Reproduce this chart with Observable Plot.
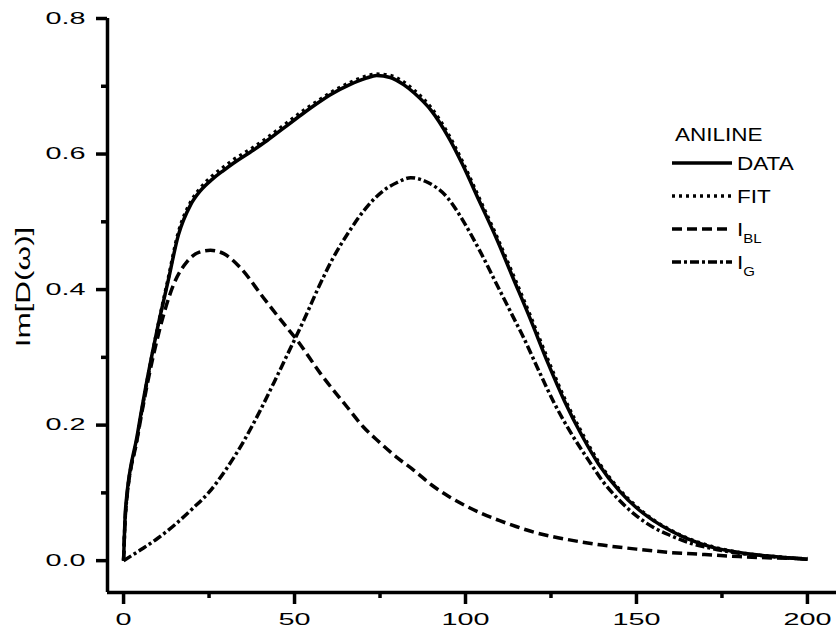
<!DOCTYPE html>
<html>
<head>
<meta charset="utf-8">
<script src="https://cdn.jsdelivr.net/npm/d3@7"></script>
<script src="https://cdn.jsdelivr.net/npm/@observablehq/plot@0.6"></script>
<style>
  html, body { margin: 0; padding: 0; background: #fff; }
  #wrap { position: relative; width: 836px; height: 635px; }
  #wrap svg { display: block; }
  #overlay { position: absolute; left: 0; top: 0; pointer-events: none; }
</style>
</head>
<body>
<div id="wrap"></div>
<script>
// ---- data ----
const dataX = [0, 0.6, 4, 7, 10, 13, 16, 19.6, 22.5, 26, 29.3, 32, 38, 42, 47, 52, 57, 61, 66, 71, 74, 78, 82, 85, 90, 95, 99, 104, 109, 114, 119, 124, 129, 134, 139, 145, 150, 155, 160, 165, 172, 180, 190, 200];
const dataY = [0, 0.078, 0.185, 0.27, 0.345, 0.412, 0.480, 0.525, 0.546, 0.563, 0.576, 0.586, 0.606, 0.620, 0.639, 0.658, 0.676, 0.689, 0.702, 0.712, 0.716, 0.713, 0.702, 0.690, 0.664, 0.625, 0.586, 0.531, 0.476, 0.416, 0.356, 0.293, 0.235, 0.185, 0.142, 0.103, 0.078, 0.059, 0.044, 0.032, 0.020, 0.012, 0.006, 0.002];
const fitY  = [0, 0.072, 0.182, 0.268, 0.345, 0.415, 0.484, 0.529, 0.550, 0.568, 0.581, 0.591, 0.610, 0.624, 0.643, 0.662, 0.679, 0.692, 0.705, 0.715, 0.718, 0.716, 0.706, 0.694, 0.668, 0.629, 0.590, 0.535, 0.480, 0.421, 0.361, 0.298, 0.239, 0.189, 0.145, 0.105, 0.080, 0.060, 0.045, 0.033, 0.021, 0.012, 0.006, 0.002];
const iblX = [0, 0.6, 4, 7, 10, 12, 14.6, 18.7, 22, 25.4, 29.3, 34.2, 40.9, 46.8, 50.8, 57.6, 65.5, 70, 75, 80, 85, 90, 95, 100, 105, 110, 115, 120, 125, 130, 140, 150, 160, 170, 180, 190, 200];
const iblY = [0, 0.072, 0.18, 0.262, 0.33, 0.368, 0.407, 0.442, 0.455, 0.458, 0.453, 0.432, 0.388, 0.350, 0.325, 0.276, 0.226, 0.198, 0.174, 0.152, 0.133, 0.112, 0.095, 0.081, 0.069, 0.059, 0.050, 0.042, 0.036, 0.031, 0.023, 0.017, 0.012, 0.009, 0.006, 0.004, 0.003];
const igX = [0, 5, 10, 15, 20, 25, 30, 35, 40, 44, 48, 53, 57, 61, 66, 71, 76, 80, 84, 89, 95, 99, 104, 109, 114, 117, 121, 126, 131, 136, 140, 145, 150, 155, 160, 165, 172, 180, 190, 200];
const igY = [0, 0.016, 0.033, 0.053, 0.076, 0.101, 0.135, 0.175, 0.222, 0.263, 0.305, 0.358, 0.403, 0.444, 0.486, 0.521, 0.546, 0.558, 0.565, 0.558, 0.534, 0.504, 0.459, 0.409, 0.359, 0.329, 0.285, 0.232, 0.187, 0.148, 0.118, 0.089, 0.066, 0.049, 0.037, 0.027, 0.018, 0.011, 0.006, 0.002];

const xMajor = [0, 50, 100, 150, 200];
const xMinor = [25, 75, 125, 175];
const yMajor = [0.0, 0.2, 0.4, 0.6, 0.8];
const yMinor = [0.1, 0.3, 0.5, 0.7];

const legendTitle = "ANILINE";
const legendLabels = [["DATA", ""], ["FIT", ""], ["I", "BL"], ["I", "G"]];
const yLabel = "Im[D(ω)]";

// ---- styles ----
const dashes = [null, "3,4", "10,5", "9,3,3,3"];
const SW = 3.5;
const AW = 3.5;
const xDomain = [-4.7, 208.5];
const yDomain = [-0.047, 0.8];

const series = [
  dataX.map((x, i) => ({x, y: dataY[i]})),
  dataX.map((x, i) => ({x, y: fitY[i]})),
  iblX.map((x, i) => ({x, y: iblY[i]})),
  igX.map((x, i) => ({x, y: igY[i]}))
];

const plot = Plot.plot({
  width: 836,
  height: 635,
  marginLeft: 107,
  marginRight: 0,
  marginTop: 18,
  marginBottom: 43,
  x: {domain: xDomain},
  y: {domain: yDomain},
  style: {fontFamily: "'Liberation Sans', Arial, sans-serif", fontSize: "16px", color: "black", background: "white"},
  marks: [
    Plot.axisY(yMajor, {tickSize: 11, tickPadding: 11, strokeWidth: AW, tickFormat: d3.format(".1f"), fontSize: 16, label: null}),
    Plot.axisY(yMinor, {tickSize: 6, strokeWidth: AW, tickFormat: () => "", label: null}),
    Plot.axisX(xMajor, {tickSize: 12, tickPadding: 9, strokeWidth: AW, tickFormat: d3.format("d"), fontSize: 16, label: null}),
    Plot.axisX(xMinor, {tickSize: 6, strokeWidth: AW, tickFormat: () => "", label: null}),
    Plot.ruleX([xDomain[0]], {strokeWidth: AW, stroke: "black"}),
    Plot.ruleY([yDomain[0]], {strokeWidth: AW, stroke: "black"}),
    ...series.map((s, k) => Plot.line(s, {
      x: "x", y: "y", stroke: "black", strokeWidth: SW,
      strokeDasharray: dashes[k] ?? undefined, curve: "monotone-x",
      strokeLinecap: "butt", strokeLinejoin: "round"
    }))
  ]
});

function stretch(selector, sx) {
  plot.querySelectorAll(selector).forEach(t => {
    const tr = t.getAttribute("transform");
    if (tr) t.setAttribute("transform", tr + ` scale(${sx},1)`);
    else {
      const x = +t.getAttribute("x") || 0, y = +t.getAttribute("y") || 0;
      t.setAttribute("transform", `translate(${x},${y}) scale(${sx},1) translate(${-x},${-y})`);
    }
  });
}
stretch('g[aria-label="y-axis tick label"] text', 1.8);
stretch('g[aria-label="x-axis tick label"] text', 1.8);

const wrap = document.getElementById("wrap");
wrap.appendChild(plot);

// ---- overlay: y label and legend ----
const ov = d3.select(wrap).append("svg")
  .attr("id", "overlay").attr("width", 836).attr("height", 635)
  .style("font-family", "'Liberation Sans', Arial, sans-serif");

ov.append("text")
  .attr("transform", "translate(30,287) rotate(-90) scale(1.5,1)")
  .attr("text-anchor", "middle")
  .attr("font-size", 21)
  .text(yLabel);

const lgX = 672, lgY0 = 163, lgStep = 33, lgLen = 60, lgTextX = 737, lgScale = 1.25;
ov.append("text")
  .attr("transform", `translate(675,141) scale(${lgScale},1)`)
  .attr("font-size", 18)
  .text(legendTitle);

legendLabels.forEach(([main, sub], k) => {
  const cy = lgY0 + k * lgStep;
  ov.append("line")
    .attr("x1", lgX).attr("x2", lgX + lgLen).attr("y1", cy).attr("y2", cy)
    .attr("stroke", "black").attr("stroke-width", SW)
    .attr("stroke-dasharray", dashes[k] || null);
  const t = ov.append("text")
    .attr("transform", `translate(${lgTextX},${cy + 6.5}) scale(${lgScale},1)`)
    .attr("font-size", 18)
    .text(main);
  if (sub) t.append("tspan").attr("font-size", 12).attr("dy", 7).text(sub);
});
</script>
</body>
</html>
